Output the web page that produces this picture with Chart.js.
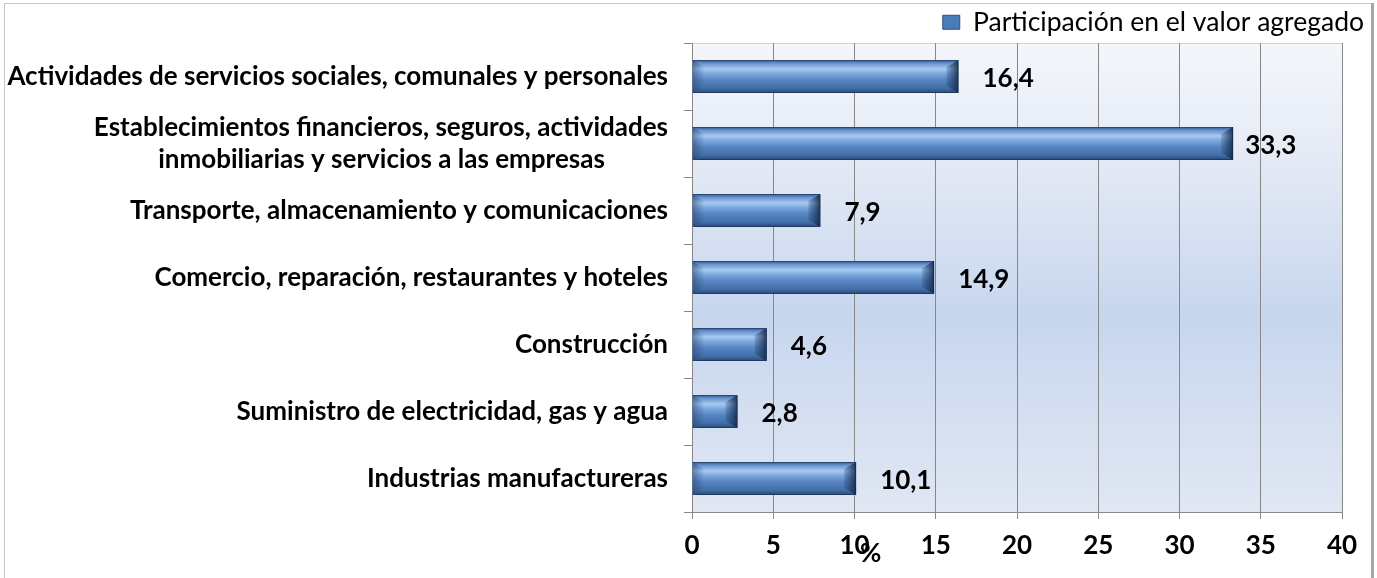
<!DOCTYPE html>
<html>
<head>
<meta charset="utf-8">
<script src="https://cdn.jsdelivr.net/npm/chart.js@4.4.1/dist/chart.umd.min.js"></script>
<style>
  html, body { margin: 0; padding: 0; background: #fff; }
  #wrap { width: 1377px; height: 578px; }
</style>
</head>
<body>
<div id="wrap"><canvas id="sectorChart" width="1377" height="578"></canvas></div>
<script>
const categories = [
    'Actividades de servicios sociales, comunales y personales',
    ['Establecimientos financieros, seguros, actividades', 'inmobiliarias y servicios a las empresas'],
    'Transporte, almacenamiento y comunicaciones',
    'Comercio, reparación, restaurantes y hoteles',
    'Construcción',
    'Suministro de electricidad, gas y agua',
    'Industrias manufactureras'
];
const shares = [16.4, 33.3, 7.9, 14.9, 4.6, 2.8, 10.1];
const seriesLabel = 'Participación en el valor agregado';
const axisTitle = '%';
const xMin = 0;
const xMax = 40;
const xStep = 5;

const FONT = 'Lato, "Noto Sans", sans-serif';
const SIZE = 26;

// right-aligned ticks: pad the second line so the two lines look centred on each other
function centerSecondLine(lines) {
    const m = document.createElement('canvas').getContext('2d');
    m.font = 'bold ' + SIZE + 'px ' + FONT;
    const w0 = m.measureText(lines[0]).width;
    const w1 = m.measureText(lines[1]).width;
    const sp = m.measureText(' ').width;
    const n = Math.max(0, Math.round((w0 - w1) / 2 / sp));
    return [lines[0], lines[1] + ' '.repeat(n)];
}
const categoryLabels = categories.map(c => Array.isArray(c) ? centerSecondLine(c) : c);

const BAR_PCT = 0.49;

function barFill(context) {
    const chart = context.chart;
    const { ctx, chartArea, scales } = chart;
    if (!chartArea) return '#4F81BD';
    const yc = scales.y.getPixelForValue(context.dataIndex);
    const half = chartArea.height / shares.length * BAR_PCT / 2;
    const g = ctx.createLinearGradient(0, yc - half, 0, yc + half);
    g.addColorStop(0, '#30598F');
    g.addColorStop(0.1, '#6893CC');
    g.addColorStop(0.27, '#A6CAF2');
    g.addColorStop(0.42, '#7AA6DC');
    g.addColorStop(0.6, '#5786C3');
    g.addColorStop(0.85, '#436FA9');
    g.addColorStop(1, '#284A78');
    return g;
}

// keep the legend strip at a fixed height so the plot starts where the original does
const legendHeight = {
    id: 'legendHeight',
    beforeLayout(chart) {
        const lg = chart.legend;
        if (lg && !lg._fixed) {
            const fit = lg.fit;
            lg.fit = function () {
                fit.call(this);
                this.height = 37;
            };
            lg._fixed = true;
        }
    }
};

const plotBackground = {
    id: 'plotBackground',
    beforeDraw(chart) {
        const { ctx, chartArea: a } = chart;
        ctx.save();
        const g = ctx.createLinearGradient(0, a.top, 0, a.bottom);
        g.addColorStop(0, '#F4F6FB');
        g.addColorStop(0.25, '#E4EAF5');
        g.addColorStop(0.58, '#C7D6EE');
        g.addColorStop(1, '#E1E7F3');
        ctx.fillStyle = g;
        ctx.fillRect(a.left, a.top, a.right - a.left, a.bottom - a.top);
        ctx.strokeStyle = '#D4D4D4';
        ctx.lineWidth = 1;
        ctx.beginPath();
        ctx.moveTo(a.left, a.top + 0.5);
        ctx.lineTo(a.right, a.top + 0.5);
        ctx.stroke();
        ctx.restore();
    },
    afterDraw(chart) {
        const { ctx, width } = chart;
        ctx.save();
        ctx.strokeStyle = '#C8C8C8';
        ctx.lineWidth = 1;
        ctx.strokeRect(4.5, 3.5, width - 10, 600);
        ctx.fillStyle = '#A6A6A6';
        ctx.fillRect(width - 6, 3, 3, 580);
        ctx.restore();
    }
};

const barDecor = {
    id: 'barDecor',
    beforeDatasetsDraw(chart) {
        const ctx = chart.ctx;
        ctx.save();
        ctx.shadowColor = 'rgba(0,0,0,0.35)';
        ctx.shadowBlur = 5;
        ctx.shadowOffsetX = 2;
        ctx.shadowOffsetY = 2;
    },
    afterDatasetsDraw(chart) {
        const ctx = chart.ctx;
        ctx.restore();
        const meta = chart.getDatasetMeta(0);
        ctx.save();
        meta.data.forEach((el, i) => {
            const top = el.y - el.height / 2;
            const bot = el.y + el.height / 2;
            const d = Math.min(12, (el.x - el.base) / 3);
            // bevelled right end
            const gr = ctx.createLinearGradient(el.x - d, 0, el.x, 0);
            gr.addColorStop(0, 'rgba(25,50,90,0.2)');
            gr.addColorStop(1, 'rgba(15,35,65,0.85)');
            ctx.fillStyle = gr;
            ctx.beginPath();
            ctx.moveTo(el.x - d, top + 7);
            ctx.lineTo(el.x, top);
            ctx.lineTo(el.x, bot);
            ctx.lineTo(el.x - d, bot - 7);
            ctx.closePath();
            ctx.fill();
            // bevelled left end
            const gl = ctx.createLinearGradient(el.base, 0, el.base + d, 0);
            gl.addColorStop(0, 'rgba(40,70,115,0.55)');
            gl.addColorStop(1, 'rgba(40,70,115,0)');
            ctx.fillStyle = gl;
            ctx.beginPath();
            ctx.moveTo(el.base, top);
            ctx.lineTo(el.base + d, top + 7);
            ctx.lineTo(el.base + d, bot - 7);
            ctx.lineTo(el.base, bot);
            ctx.closePath();
            ctx.fill();
        });
        // value labels
        ctx.fillStyle = '#000';
        ctx.font = 'bold ' + SIZE + 'px ' + FONT;
        ctx.textAlign = 'left';
        ctx.textBaseline = 'middle';
        meta.data.forEach((el, i) => {
            const txt = shares[i].toFixed(1).replace('.', ',');
            const gap = el.x > chart.chartArea.right - 130 ? 12 : 24;
            ctx.fillText(txt, el.x + gap, el.y + 2);
        });
        // axis title, placed like the original (left of centre, over the tick row)
        const a = chart.chartArea;
        ctx.textAlign = 'center';
        ctx.fillText(axisTitle, a.left + (a.right - a.left) * 0.275, 554);
        ctx.restore();
    }
};

Chart.defaults.font.family = FONT;
Chart.defaults.color = '#000';

const chart = new Chart(document.getElementById('sectorChart').getContext('2d'), {
    type: 'bar',
    data: {
        labels: categoryLabels,
        datasets: [{
            label: seriesLabel,
            data: shares,
            backgroundColor: barFill,
            borderColor: '#2A4C7A',
            borderWidth: 1,
            barPercentage: BAR_PCT,
            categoryPercentage: 1
        }]
    },
    options: {
        indexAxis: 'y',
        responsive: false,
        animation: false,
        layout: { padding: { top: 6, right: 10, left: 0, bottom: 0 } },
        plugins: {
            legend: {
                position: 'top',
                align: 'end',
                labels: {
                    boxWidth: 17,
                    boxHeight: 14,
                    padding: 3,
                    color: '#000',
                    font: { size: 26.5 },
                    generateLabels: () => [{
                        text: seriesLabel,
                        fillStyle: '#4A7CB9',
                        strokeStyle: '#2E5282',
                        lineWidth: 1,
                        hidden: false,
                        datasetIndex: 0,
                        fontColor: '#000'
                    }]
                }
            },
            tooltip: { enabled: false }
        },
        scales: {
            x: {
                min: xMin,
                max: xMax,
                ticks: {
                    stepSize: xStep,
                    padding: 11,
                    color: '#000',
                    font: { size: SIZE, weight: 'bold' }
                },
                grid: { color: '#878787', tickLength: 7 },
                border: { color: '#878787' },
                afterFit(s) {
                    s.height = 66;
                    s.paddingRight = 35;
                }
            },
            y: {
                ticks: {
                    autoSkip: false,
                    padding: 16,
                    color: '#000',
                    font: { size: SIZE, weight: 'bold', lineHeight: 1.25 }
                },
                grid: { drawOnChartArea: false, tickLength: 8, color: '#878787' },
                border: { color: '#878787' },
                afterFit(s) {
                    s.width = 692;
                    s.paddingTop = 0;
                    s.paddingBottom = 0;
                }
            }
        }
    },
    plugins: [legendHeight, plotBackground, barDecor]
});
</script>
</body>
</html>
